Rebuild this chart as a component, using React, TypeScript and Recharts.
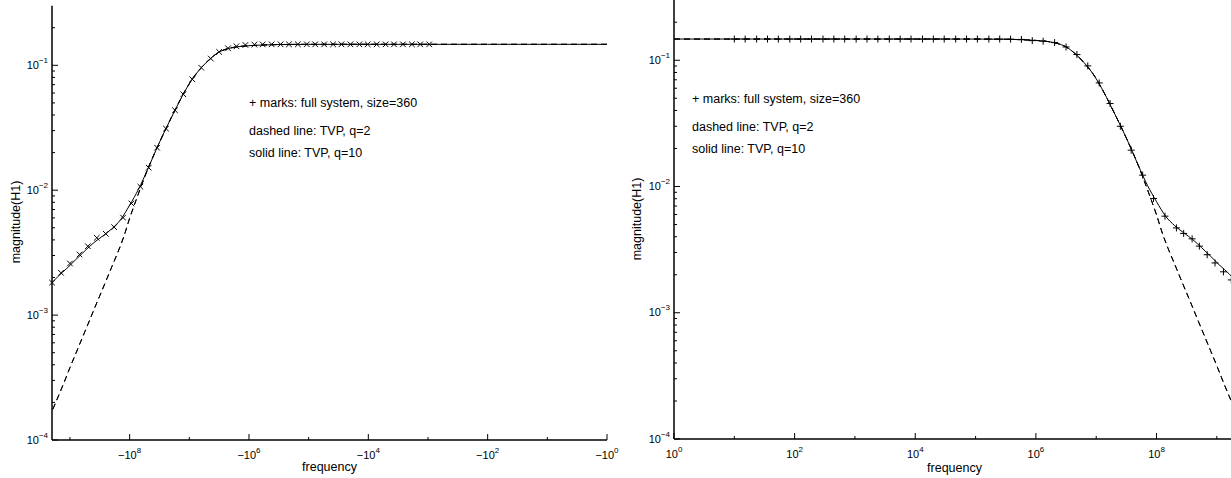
import React from 'react'
import { LineChart, Line, XAxis, YAxis } from 'recharts'

const FONT = '"Liberation Sans", Arial, Helvetica, sans-serif'

// axes: decades on x (labels on even powers), decades + 2..9 minors on y
const X_TICKS = [1, 1e1, 1e2, 1e3, 1e4, 1e5, 1e6, 1e7, 1e8, 1e9]
const Y_TICKS = [
  1e-4, 2e-4, 3e-4, 4e-4, 5e-4, 6e-4, 7e-4, 8e-4, 9e-4,
  1e-3, 2e-3, 3e-3, 4e-3, 5e-3, 6e-3, 7e-3, 8e-3, 9e-3,
  1e-2, 2e-2, 3e-2, 4e-2, 5e-2, 6e-2, 7e-2, 8e-2, 9e-2,
  1e-1, 2e-1,
]
const X_DOMAIN = [1, 2e9]
const Y_DOMAIN = [1e-4, 0.3]

// TVP curves; |frequency| given as decade exponent
const solidExp = [0, 1, 2, 3, 4, 5, 5.5, 5.8, 6.0, 6.2, 6.35, 6.5, 6.65, 6.8, 6.95, 7.1, 7.25, 7.4, 7.55, 7.7, 7.85, 8.0, 8.15, 8.3, 8.45, 8.6, 8.75, 8.9, 9.05, 9.2, 9.301]
const solidMag = [0.1472, 0.1472, 0.1472, 0.1472, 0.1472, 0.1471, 0.1466, 0.1452, 0.1435, 0.1406, 0.1361, 0.1276, 0.1127, 0.0955, 0.0776, 0.0589, 0.0427, 0.0305, 0.0214, 0.0146, 0.0102, 0.00759, 0.00582, 0.0049, 0.0043, 0.0038, 0.00327, 0.00279, 0.00237, 0.00204, 0.00181]

const dashedExp = [0, 1, 2, 3, 4, 5, 5.5, 5.8, 6.0, 6.2, 6.35, 6.5, 6.65, 6.8, 6.95, 7.1, 7.25, 7.4, 7.55, 7.7, 7.8, 7.9, 8.0, 8.1, 8.2, 8.3, 8.4, 8.5, 8.6, 8.7, 8.8, 8.9, 9.0, 9.1, 9.2, 9.301]
const dashedMag = [0.1472, 0.1472, 0.1472, 0.1472, 0.1472, 0.1471, 0.1466, 0.1452, 0.1435, 0.1406, 0.1361, 0.1276, 0.1127, 0.0955, 0.0776, 0.0589, 0.0427, 0.0305, 0.0214, 0.0146, 0.01096, 0.00813, 0.00596, 0.00422, 0.00316, 0.00243, 0.00186, 0.00143, 0.0011, 0.000841, 0.000646, 0.000495, 0.00038, 0.000288, 0.000221, 0.00017]

// full system (size=360) marks
const leftMarkExp = [9.30, 9.15, 9.00, 8.84, 8.70, 8.55, 8.40, 8.26, 8.11, 7.97, 7.82, 7.68, 7.54, 7.39, 7.24, 7.10, 6.95, 6.80, 6.64, 6.50, 6.35, 6.21, 6.06, 5.91, 5.77, 5.62, 5.47, 5.33, 5.18, 5.03, 4.89, 4.74, 4.59, 4.45, 4.30, 4.15, 4.01, 3.86, 3.71, 3.57, 3.42, 3.27, 3.13, 2.98]
const leftMarkMag = [0.00182, 0.00218, 0.00259, 0.00306, 0.00356, 0.00416, 0.00448, 0.00506, 0.00603, 0.00783, 0.01067, 0.01514, 0.02188, 0.03112, 0.04365, 0.05861, 0.07727, 0.09572, 0.1132, 0.1279, 0.1368, 0.1419, 0.1455, 0.1465, 0.147, 0.1472, 0.1472, 0.1472, 0.1472, 0.1472, 0.1472, 0.1472, 0.1472, 0.1472, 0.1472, 0.1472, 0.1472, 0.1472, 0.1472, 0.1472, 0.1472, 0.1472, 0.1472, 0.1472]

const rightMarkExp = [1.00, 1.18, 1.37, 1.55, 1.73, 1.92, 2.10, 2.28, 2.47, 2.65, 2.83, 3.02, 3.20, 3.38, 3.57, 3.75, 3.93, 4.12, 4.30, 4.48, 4.67, 4.85, 5.03, 5.22, 5.40, 5.58, 5.76, 5.94, 6.12, 6.31, 6.50, 6.68, 6.86, 7.05, 7.23, 7.40, 7.58, 7.77, 7.95, 8.14, 8.33, 8.45, 8.59, 8.71, 8.84, 8.97, 9.11, 9.24]
const rightMarkMag = [0.1472, 0.1472, 0.1472, 0.1472, 0.1472, 0.1472, 0.1472, 0.1472, 0.1472, 0.1472, 0.1472, 0.1472, 0.1472, 0.1472, 0.1472, 0.1472, 0.1472, 0.1472, 0.1472, 0.1472, 0.1472, 0.1472, 0.1472, 0.1472, 0.1472, 0.147, 0.1462, 0.143, 0.1415, 0.138, 0.1274, 0.1109, 0.0902, 0.0661, 0.0454, 0.03, 0.0194, 0.0123, 0.00804, 0.00582, 0.0047, 0.00425, 0.00385, 0.00337, 0.00288, 0.00248, 0.00211, 0.00182]

const ANNOTATIONS = ['+ marks: full system, size=360', 'dashed line: TVP, q=2', 'solid line: TVP, q=10']

const toRows = (exp: number[], mag: number[]) => exp.map((e, i) => ({ f: 10 ** e, m: mag[i] }))
const solidRows = toRows(solidExp, solidMag)
const dashedRows = toRows(dashedExp, dashedMag)

const MAJOR = 6
const MINOR = 3
const decade = (v: number) => Math.round(Math.log10(v))
const isDecade = (v: number) => Math.abs(Math.log10(v) - decade(v)) < 1e-6
const supText = (e: number) => (e < 0 ? `\u2212${-e}` : `${e}`)

const bottomTick = (negative: boolean) => (p: any) => {
  const e = decade(p.payload.value)
  const major = e % 2 === 0
  return (
    <g key={p.index}>
      <line x1={p.x} x2={p.x} y1={p.y} y2={p.y - (major ? MAJOR : MINOR)} stroke="#000" />
      {major && (
        <text x={p.x} y={p.y + 19} textAnchor="middle" fontSize={11} fontFamily={FONT} fill="#000">
          {negative ? '\u221210' : '10'}
          <tspan dy={-6} fontSize={8} fill="#000">{e}</tspan>
        </text>
      )}
    </g>
  )
}

const topTick = (p: any) => {
  const major = decade(p.payload.value) % 2 === 0
  return <line key={p.index} x1={p.x} x2={p.x} y1={p.y} y2={p.y + (major ? MAJOR : MINOR)} stroke="#000" />
}

const leftTick = (p: any) => {
  const major = isDecade(p.payload.value)
  return (
    <g key={p.index}>
      <line x1={p.x} x2={p.x + (major ? MAJOR : MINOR)} y1={p.y} y2={p.y} stroke="#000" />
      {major && (
        <text x={p.x - 4} y={p.y + 3.5} textAnchor="end" fontSize={11} fontFamily={FONT} fill="#000">
          10
          <tspan dy={-6} fontSize={8} fill="#000">{supText(decade(p.payload.value))}</tspan>
        </text>
      )}
    </g>
  )
}

const rightTick = (p: any) => {
  const major = isDecade(p.payload.value)
  return <line key={p.index} x1={p.x} x2={p.x - (major ? MAJOR : MINOR)} y1={p.y} y2={p.y} stroke="#000" />
}

const xMark = (p: any) => {
  const s = 2.8
  return (
    <path
      key={p.index}
      d={`M${p.cx - s},${p.cy - s}L${p.cx + s},${p.cy + s}M${p.cx - s},${p.cy + s}L${p.cx + s},${p.cy - s}`}
      stroke="#000"
      strokeWidth={1}
      fill="none"
    />
  )
}

const plusMark = (p: any) => {
  const s = 3.5
  return (
    <path
      key={p.index}
      d={`M${p.cx - s},${p.cy}L${p.cx + s},${p.cy}M${p.cx},${p.cy - s}L${p.cx},${p.cy + s}`}
      stroke="#000"
      strokeWidth={1}
      fill="none"
    />
  )
}

interface PanelProps {
  negative: boolean
  marks: { f: number; m: number }[]
  marker: (p: any) => React.ReactElement
  margin: { top: number; right: number; bottom: number; left: number }
  yWidth: number
}

function Panel({ negative, marks, marker, margin, yWidth }: PanelProps) {
  const axisLine = { stroke: '#000', strokeWidth: 1.5 }
  return (
    <LineChart width={620} height={478} margin={margin}>
      <XAxis
        xAxisId="b" dataKey="f" type="number" scale="log" domain={X_DOMAIN} ticks={X_TICKS}
        interval={0} reversed={negative} height={38} tickSize={0} tickMargin={0} tickLine={false}
        axisLine={axisLine} tick={bottomTick(negative)}
      />
      <XAxis
        xAxisId="t" orientation="top" dataKey="f" type="number" scale="log" domain={X_DOMAIN} ticks={X_TICKS}
        interval={0} reversed={negative} height={0} tickSize={0} tickMargin={0} tickLine={false}
        axisLine={{ stroke: '#000', strokeWidth: 1.5 }} tick={topTick}
      />
      <YAxis
        yAxisId="l" type="number" scale="log" domain={Y_DOMAIN} ticks={Y_TICKS} interval={0}
        width={yWidth} tickSize={0} tickMargin={0} tickLine={false} axisLine={axisLine} tick={leftTick}
      />
      <YAxis
        yAxisId="r" orientation="right" type="number" scale="log" domain={Y_DOMAIN} ticks={Y_TICKS} interval={0}
        width={0} tickSize={0} tickMargin={0} tickLine={false} axisLine={axisLine} tick={rightTick}
      />
      <Line xAxisId="t" yAxisId="r" data={dashedRows} dataKey="m" type="monotone" stroke="#000" strokeWidth={1} strokeDasharray="6 4" dot={false} activeDot={false} isAnimationActive={false} />
      <Line xAxisId="b" yAxisId="l" data={dashedRows} dataKey="m" type="monotone" stroke="#000" strokeWidth={1} strokeDasharray="6 4" dot={false} activeDot={false} isAnimationActive={false} />
      <Line xAxisId="b" yAxisId="l" data={solidRows} dataKey="m" type="monotone" stroke="#000" strokeWidth={1} dot={false} activeDot={false} isAnimationActive={false} />
      <Line xAxisId="b" yAxisId="l" data={marks} dataKey="m" stroke="none" dot={marker} activeDot={false} isAnimationActive={false} />
    </LineChart>
  )
}

export default function App() {
  const txt = { fontFamily: FONT, fontSize: 12.5, fill: '#000' }
  return (
    <div style={{ position: 'absolute', left: 0, top: 0, width: 1231, height: 478, overflow: 'hidden', background: '#fff' }}>
      <div style={{ position: 'absolute', left: 0, top: 0 }}>
        <Panel
          negative
          marks={toRows(leftMarkExp, leftMarkMag)}
          marker={xMark}
          margin={{ top: 5.7, right: 13, bottom: 0, left: 0 }}
          yWidth={52}
        />
      </div>
      <div style={{ position: 'absolute', left: 620, top: -1 }}>
        <Panel
          negative={false}
          marks={toRows(rightMarkExp, rightMarkMag)}
          marker={plusMark}
          margin={{ top: 1, right: 5, bottom: 0, left: 0 }}
          yWidth={54}
        />
      </div>
      <svg width={1231} height={478} style={{ position: 'absolute', left: 0, top: 0, pointerEvents: 'none' }}>
        <text x={249} y={107} {...txt}>{ANNOTATIONS[0]}</text>
        <text x={249} y={135} {...txt}>{ANNOTATIONS[1]}</text>
        <text x={249} y={157} {...txt}>{ANNOTATIONS[2]}</text>
        <text x={692} y={102.5} {...txt}>{ANNOTATIONS[0]}</text>
        <text x={692} y={130.5} {...txt}>{ANNOTATIONS[1]}</text>
        <text x={692} y={152.5} {...txt}>{ANNOTATIONS[2]}</text>
        <text x={329.5} y={471} textAnchor="middle" {...txt}>frequency</text>
        <text x={954.5} y={472} textAnchor="middle" {...txt}>frequency</text>
        <text transform="translate(20,222) rotate(-90)" textAnchor="middle" {...txt}>magnitude(H1)</text>
        <text transform="translate(641,219) rotate(-90)" textAnchor="middle" {...txt}>magnitude(H1)</text>
      </svg>
    </div>
  )
}
